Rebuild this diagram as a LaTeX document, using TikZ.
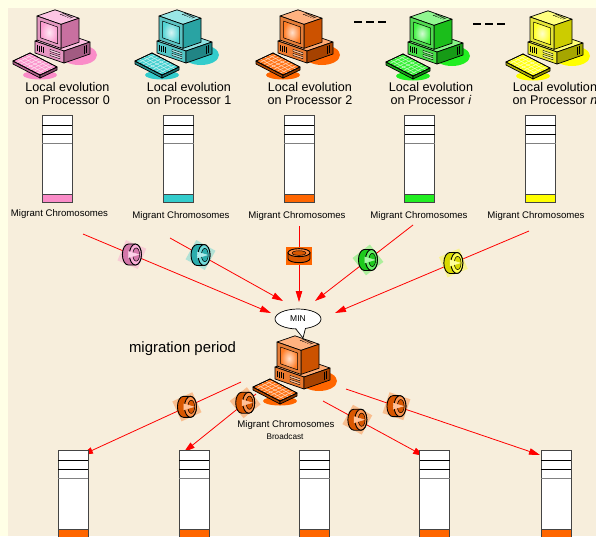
\documentclass[tikz,border=0pt]{standalone}
\usepackage{fontspec}
\setmainfont{Liberation Sans}
\usetikzlibrary{arrows.meta,decorations.markings,shapes.geometric,calc}

\definecolor{outerbg}{HTML}{FFFFE6}
\definecolor{paper}{HTML}{F7EEDC}
\definecolor{pinkc}{HTML}{FA8CC8}
\definecolor{cyanc}{HTML}{33CCCC}
\definecolor{orangec}{HTML}{FF6600}
\definecolor{greenc}{HTML}{22EE22}
\definecolor{yellowc}{HTML}{FFFF00}
\definecolor{colline}{HTML}{444444}

\tikzset{
  outl/.style={draw=black, line width=0.7pt, line join=round},
  lbl/.style={font=\fontsize{12.6}{13}\selectfont, align=center, inner sep=0pt},
  smalllbl/.style={font=\fontsize{9.6}{11}\selectfont, inner sep=0pt},
  mig/.style={draw=red, line width=0.8pt, -{Triangle[length=11pt,width=6.5pt]}},
  gapdash/.style={line width=2.4pt, dash pattern=on 8pt off 4pt},
  % desktop computer icon, origin at the top-left of its box
  pics/computer/.style={code={
    \fill[#1] (66,46) ellipse [x radius=18, y radius=10];
    \fill[#1] (27,66) ellipse [x radius=17, y radius=4.5];
    % system unit
    \filldraw[outl, fill=#1!55!white] (22,32) -- (48,23) -- (77,33) -- (51,42) -- cycle;
    \filldraw[outl, fill=#1!80!white!92!black] (22,32) -- (51,42) -- (51,54) -- (22,44) -- cycle;
    \filldraw[outl, fill=#1!65!black] (51,42) -- (77,33) -- (77,45) -- (51,54) -- cycle;
    \foreach \vx in {24.5,26.5,28.5,30.5}
      \draw[line width=.5pt] (\vx,{35+0.345*(\vx-22)}) -- ++(0,6);
    \filldraw[outl, line width=.4pt, fill=#1!40!white] (37,40.4) -- (47,43.8) -- (47,45.8) -- (37,42.4) -- cycle;
    \filldraw[outl, line width=.4pt, fill=#1!40!white] (37,44.4) -- (47,47.8) -- (47,49.8) -- (37,46.4) -- cycle;
    \draw[line width=.4pt] (71,37) -- (71,45) (73.5,36.2) -- (73.5,44.2);
    % monitor
    \filldraw[outl, fill=#1!50!white] (24,7) -- (42,0.8) -- (66,9.2) -- (48,15.4) -- cycle;
    \filldraw[outl, fill=#1!80!black] (48,15.4) -- (66,9.2) -- (66,33.2) -- (48,39.4) -- cycle;
    \filldraw[outl, fill=#1!75!white!90!black] (24,7) -- (48,15.4) -- (48,39.4) -- (24,31) -- cycle;
    \shade[inner color=#1!20!white, outer color=#1!85!white] (27.5,12) -- (44.5,18) -- (44.5,34.8) -- (27.5,28.8) -- cycle;
    \draw[outl, line width=.5pt] (27.5,12) -- (44.5,18) -- (44.5,34.8) -- (27.5,28.8) -- cycle;
    \foreach \k in {0,1,2,3,4}
      \draw[line width=.45pt] ({47+2.4*\k},{5.8+0.84*\k}) -- ++(5,-1.7);
    % keyboard
    \filldraw[outl, fill=#1!70!black] (0,52) -- (27,66) -- (27,69) -- (0,55) -- cycle;
    \filldraw[outl, fill=#1!55!black] (27,66) -- (44,58) -- (44,61) -- (27,69) -- cycle;
    \filldraw[outl, fill=#1!90!white] (0,52) -- (17,44) -- (44,58) -- (27,66) -- cycle;
    \foreach \t in {0.25,0.5,0.75}
      \draw[#1!25!white, line width=.5pt] ($(0,52)!\t!(17,44)$) -- ($(27,66)!\t!(44,58)$);
    \foreach \t in {0.125,0.25,...,0.9}
      \draw[#1!25!white, line width=.5pt] ($(0,52)!\t!(27,66)$) -- ($(17,44)!\t!(44,58)$);
    \draw[outl] (0,52) -- (17,44) -- (44,58) -- (27,66) -- cycle;
  }},
  % short cylinder standing for a packet of migrants, axis along x
  pics/ring/.style={code={
    \filldraw[outl, line width=.9pt, fill=#1!85!black] (-3.5,-10.5) -- (3.5,-10.5)
      .. controls (6.8,-10.5) and (9.5,-5.8) .. (9.5,0)
      .. controls (9.5,5.8) and (6.8,10.5) .. (3.5,10.5) -- (-3.5,10.5)
      .. controls (-6.8,10.5) and (-9.5,5.8) .. (-9.5,0)
      .. controls (-9.5,-5.8) and (-6.8,-10.5) .. (-3.5,-10.5) -- cycle;
    \filldraw[outl, line width=.9pt, fill=#1!70!white] (3.5,0) ellipse [x radius=6, y radius=10.5];
    \filldraw[outl, line width=.5pt, fill=#1!85!black] (4.3,0) ellipse [x radius=3.4, y radius=6.6];
    \draw[#1!40!white, line width=.5pt] (1.2,0) -- (7.6,0);
  }},
  % chromosome store: header cells, body and migrant slot
  pics/column/.style={code={
    \filldraw[fill=white, draw=colline, line width=.8pt] (-15,0) rectangle (15,87);
    \draw[line width=.8pt] (-15,10) -- (15,10) (-15,19) -- (15,19);
    \draw[gray, line width=1pt] (-15,28) -- (15,28);
    \filldraw[fill=#1, draw=colline, line width=.8pt] (-15,79) rectangle (15,87);
  }},
  ringat/.style 2 args={postaction={decorate, decoration={markings,
    mark=at position #1 with {\fill[#2, opacity=.35] (-11,-11) rectangle (11,11); \pic {ring=#2};}}}},
}

\begin{document}
\begin{tikzpicture}[x=1pt, y=-1pt]
  \useasboundingbox (0,0) rectangle (596,536);
  \clip (0,0) rectangle (596,536);
  \fill[outerbg] (0,0) rectangle (596,536);
  \fill[paper] (8,8) rectangle (596,536);

  % processors
  \pic at (13,9) {computer=pinkc};
  \pic at (135,9) {computer=cyanc};
  \pic at (256,9) {computer=orangec};
  \pic at (386,10) {computer=greenc};
  \pic at (506,10) {computer=yellowc};

  \coordinate (d0a) at (354,22); \coordinate (d0b) at (386,22);
  \coordinate (d1a) at (473,24); \coordinate (d1b) at (505,24);
  \draw[gapdash] (d0a) -- (d0b);
  \draw[gapdash] (d1a) -- (d1b);

  \node[lbl] (p0) at (67.5,93.5) {Local evolution\\on Processor 0};
  \node[lbl] (p1) at (189,93.5) {Local evolution\\on Processor 1};
  \node[lbl] (p2) at (310,93.5) {Local evolution\\on Processor 2};
  \node[lbl] (p3) at (431,93.5) {Local evolution\\on Processor \textit{i}};
  \node[lbl] (p4) at (555,93.5) {Local evolution\\on Processor \textit{n}};

  % local populations
  \pic at (57,115) {column=pinkc};
  \pic at (178.5,115) {column=cyanc};
  \pic at (299,115) {column=orangec};
  \pic at (419.5,115) {column=greenc};
  \pic at (540.5,115) {column=yellowc};

  \node[smalllbl] (m0) at (59.5,214) {Migrant Chromosomes};
  \node[smalllbl] (m1) at (181,216) {Migrant Chromosomes};
  \node[smalllbl] (m2) at (297,216) {Migrant Chromosomes};
  \node[smalllbl] (m3) at (419,216) {Migrant Chromosomes};
  \node[smalllbl] (m4) at (536,216) {Migrant Chromosomes};

  % collector
  \node[ellipse, draw, fill=white, line width=.7pt, minimum width=46pt, minimum height=20pt,
        inner sep=0pt, font=\fontsize{8.5}{10}\selectfont] (min) at (298,319) {MIN};
  \coordinate (tailA) at ($(min.center)+(-2.5,9.6)$);
  \coordinate (tailB) at ($(min.center)+(5,19)$);
  \coordinate (tailC) at ($(min.center)+(7.5,9.2)$);
  \fill[white] ($(tailA)+(0,-1.5)$) -- (tailB) -- ($(tailC)+(0,-1.5)$) -- cycle;
  \draw[line width=.7pt, line join=round] (tailA) -- (tailB) -- (tailC);

  % gathering the migrants
  \coordinate (s0) at (83,234);  \coordinate (t0) at (271,313);
  \coordinate (s1) at (170,238); \coordinate (t1) at (283,301);
  \coordinate (s2) at (299,226); \coordinate (t2) at (299,302);
  \coordinate (s3) at (413,225); \coordinate (t3) at (315,301);
  \coordinate (s4) at (529,231); \coordinate (t4) at (335,313);
  \draw[mig, ringat={.26}{pinkc}] (s0) -- (t0);
  \draw[mig, ringat={.27}{cyanc}] (s1) -- (t1);
  \draw[mig] (s2) -- (t2);
  \draw[mig, ringat={.46}{greenc}] (s3) -- (t3);
  \draw[mig, ringat={.39}{yellowc}] (s4) -- (t4);

  % flat packet on the vertical line
  \coordinate (r2) at ($(s2)!.39!(t2)$);
  \begin{scope}[shift={(r2)}]
    \fill[orangec] (-13,-9) rectangle (13,9);
    \filldraw[outl, line width=.9pt, fill=orangec!85!black] (-11,-3) -- (-11,3)
      .. controls (-11,5.2) and (-6.1,7) .. (0,7) .. controls (6.1,7) and (11,5.2) .. (11,3)
      -- (11,-3) -- cycle;
    \filldraw[outl, line width=.9pt, fill=orangec!75!white] (0,-3) ellipse [x radius=11, y radius=4];
    \filldraw[outl, line width=.5pt, fill=orangec!85!black] (0,-2.6) ellipse [x radius=7, y radius=2.3];
  \end{scope}

  \node[font=\fontsize{14.9}{16}\selectfont, inner sep=0pt] (mp) at (182.5,349) {migration period};

  % master processor
  \pic at (253,335) {computer=orangec};

  \node[smalllbl] (mb) at (286,425) {Migrant Chromosomes};
  \node[font=\fontsize{8.2}{9}\selectfont, inner sep=0pt] (bc) at (285,437) {Broadcast};

  % broadcasting the migrants
  \coordinate (b0) at (241,382); \coordinate (e0) at (82,455);
  \coordinate (b1) at (256,394); \coordinate (e1) at (184,452);
  \coordinate (b2) at (323,401); \coordinate (e2) at (424,456);
  \coordinate (b3) at (346,389); \coordinate (e3) at (540,455);
  \draw[mig, ringat={.34}{orangec}] (b0) -- (e0);
  \draw[mig, ringat={.15}{orangec}] (b1) -- (e1);
  \draw[mig, ringat={.34}{orangec}] (b2) -- (e2);
  \draw[mig, ringat={.26}{orangec}] (b3) -- (e3);

  % receiving populations
  \pic at (73,450) {column=orangec};
  \pic at (194,450) {column=orangec};
  \pic at (314.5,450) {column=orangec};
  \pic at (434.5,450) {column=orangec};
  \pic at (556,450) {column=orangec};
\end{tikzpicture}
\end{document}
